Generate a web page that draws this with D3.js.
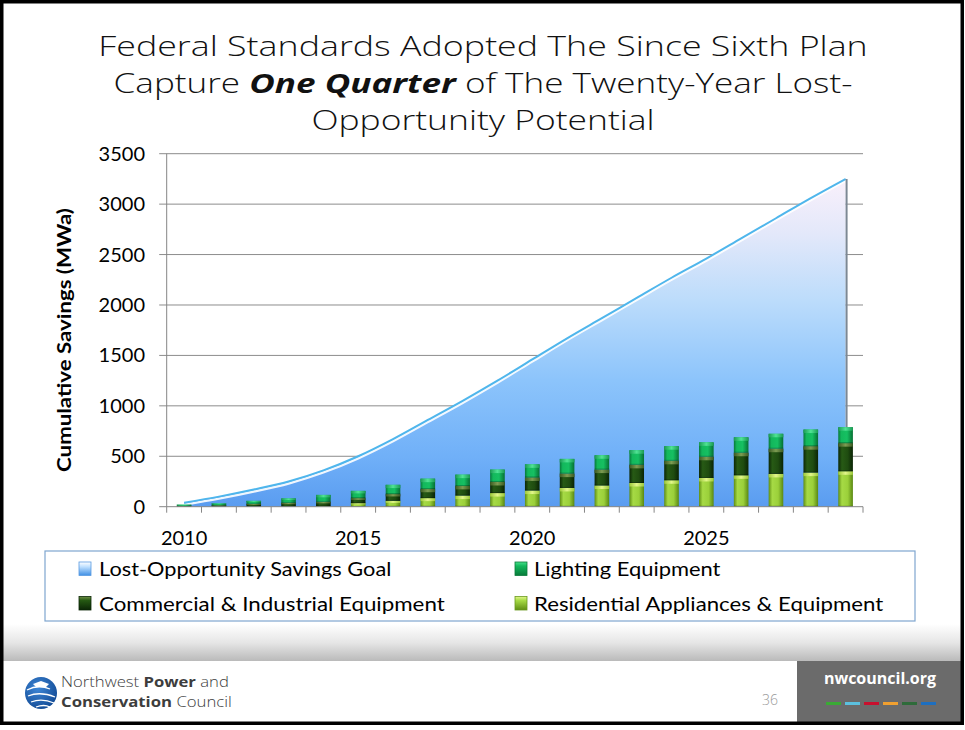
<!DOCTYPE html>
<html><head><meta charset="utf-8">
<script src="https://cdn.jsdelivr.net/npm/d3@7"></script>
<style>html,body{margin:0;padding:0;background:#fff;} svg{display:block;}</style>
</head><body>
<svg id="c" width="965" height="730"></svg>
<script>
// ---------- data ----------
const years = [2010,2011,2012,2013,2014,2015,2016,2017,2018,2019,2020,2021,2022,2023,2024,2025,2026,2027,2028,2029];
const goal = [40,100,170,250,360,500,670,860,1050,1250,1460,1670,1870,2070,2270,2460,2660,2860,3060,3250];
const residential = [0,0,0,0,5,35,58,85,110,135,160,186,210,235,262,285,311,325,338,351];
const commercial = [8,15,28,38,43,50,67,90,95,110,130,142,158,180,193,210,224,250,262,279];
const lighting = [12,17,30,44,69,72,92,103,113,123,130,146,142,145,145,143,153,148,165,158];
const yTicks = [0,500,1000,1500,2000,2500,3000,3500];
const xLabels = [2010,2015,2020,2025];
const seriesNames = ["Lost-Opportunity Savings Goal","Lighting Equipment","Commercial & Industrial Equipment","Residential Appliances & Equipment"];
const titleLine1 = "Federal Standards Adopted The Since Sixth Plan";
const titleLine2 = ["Capture ","One Quarter"," of The Twenty-Year Lost-"];
const titleLine3 = "Opportunity Potential";
const yTitle = "Cumulative Savings (MWa)";

// ---------- setup ----------
const svg = d3.select("#c");
const defs = svg.append("defs");
const L = 166.7, R = 863, B = 506.7, T = 153.7;
const x = d3.scaleBand().domain(years).range([L, R]).padding(0);
const y = d3.scaleLinear().domain([0, 3500]).range([B, T]);
const bw = x.bandwidth();
const barW = bw * 0.42;

function hGrad(id, stops){
  const g = defs.append("linearGradient").attr("id", id).attr("x1","0").attr("x2","1").attr("y1","0").attr("y2","0");
  stops.forEach(s => g.append("stop").attr("offset", s[0]).attr("stop-color", s[1]));
}
function vGrad(id, stops){
  const g = defs.append("linearGradient").attr("id", id).attr("x1","0").attr("x2","0").attr("y1","0").attr("y2","1");
  stops.forEach(s => g.append("stop").attr("offset", s[0]).attr("stop-color", s[1]));
}
hGrad("gL", [[0,"#07783a"],[0.2,"#13b85c"],[0.6,"#16c062"],[1,"#067033"]]);
hGrad("gC", [[0,"#0b2606"],[0.25,"#275a15"],[0.65,"#1f4c10"],[1,"#0a2405"]]);
hGrad("gR", [[0,"#5f8e14"],[0.25,"#a6da45"],[0.65,"#9bd03a"],[1,"#5a8812"]]);
hGrad("gLt", [[0,"#1a9a52"],[0.5,"#4fe494"],[1,"#1a9a52"]]);
hGrad("gCt", [[0,"#3c5a22"],[0.5,"#7c9c52"],[1,"#3c5a22"]]);
hGrad("gRt", [[0,"#9cc83a"],[0.5,"#e2f68a"],[1,"#9cc83a"]]);

// area gradient (user space)
const ag = defs.append("linearGradient").attr("id","gA").attr("gradientUnits","userSpaceOnUse")
  .attr("x1",0).attr("x2",0).attr("y1", y(3300)).attr("y2", y(0));
[[0,"#fbf1fb"],[0.18,"#e3e8fa"],[0.38,"#bcdcfb"],[0.62,"#8cc4fb"],[0.85,"#70b0f8"],[1,"#5a9cf0"]]
  .forEach(s => ag.append("stop").attr("offset", s[0]).attr("stop-color", s[1]));

// footer gradient
const fg = defs.append("linearGradient").attr("id","gF").attr("x1",0).attr("x2",0).attr("y1",0).attr("y2",1);
[[0,"#ffffff"],[0.5,"#e6e6e6"],[1,"#bababa"]].forEach(s => fg.append("stop").attr("offset", s[0]).attr("stop-color", s[1]));

vGrad("swA", [[0,"#ffffff"],[0.35,"#bfe0ff"],[1,"#3f8fe4"]]);
vGrad("swL", [[0,"#47e08c"],[0.3,"#13b85c"],[1,"#077a3a"]]);
vGrad("swC", [[0,"#6f8f45"],[0.3,"#255812"],[1,"#0b2606"]]);
vGrad("swR", [[0,"#e2f68a"],[0.3,"#a6da45"],[1,"#5f8e14"]]);

const rg = defs.append("radialGradient").attr("id","gLogo").attr("cx","0.4").attr("cy","0.35").attr("r","0.7");
rg.append("stop").attr("offset",0).attr("stop-color","#3d86d6");
rg.append("stop").attr("offset",1).attr("stop-color","#124a94");

// ---------- background / footer ----------
svg.append("rect").attr("x",0).attr("y",0).attr("width",965).attr("height",730).attr("fill","#fff");
svg.append("rect").attr("x",3).attr("y",624).attr("width",959).attr("height",37).attr("fill","url(#gF)");
svg.append("rect").attr("x",797).attr("y",661).attr("width",165).attr("height",62).attr("fill","#6b6b6b");
svg.append("text").attr("x",880).attr("y",684).attr("text-anchor","middle")
  .attr("font-family","Open Sans, sans-serif").attr("font-weight",700).attr("font-size",16)
  .attr("fill","#ffffff").text("nwcouncil.org");
const dashColors = ["#3aaa35","#5bc0de","#c8102e","#f0a030","#2e6b3a","#1e6fc0"];
dashColors.forEach((c,i) => svg.append("rect").attr("x",826 + i*19).attr("y",702).attr("width",15).attr("height",3).attr("fill",c));
svg.append("text").attr("x",770).attr("y",705).attr("text-anchor","middle")
  .attr("font-family","Open Sans, sans-serif").attr("font-weight",300).attr("font-size",14)
  .attr("fill","#9a9a9a").text("36");

// logo
svg.append("circle").attr("cx",41).attr("cy",693).attr("r",16).attr("fill","url(#gLogo)");
const lp = svg.append("g").attr("fill","none").attr("stroke","#fff").attr("stroke-width",1.3);
lp.append("path").attr("d","M27,690 Q38,684 50,689");
lp.append("path").attr("d","M28,696 Q40,691 55,697");
lp.append("path").attr("d","M31,702 Q42,698 54,703");
lp.append("path").attr("d","M36,707 Q44,704 50,707");
svg.append("path").attr("d","M33,684 l8,-3 l8,3 l-3,3 l-10,0 z").attr("fill","#fff");
const ft = svg.append("g").attr("font-family","Open Sans, sans-serif").attr("font-size",14).attr("fill","#3d3d3d");
const t1 = ft.append("text");
t1.append("tspan").attr("font-weight",300).text("Northwest ");
t1.append("tspan").attr("font-weight",700).text("Power");
t1.append("tspan").attr("font-weight",300).text(" and");
const t2 = ft.append("text");
t2.append("tspan").attr("font-weight",700).text("Conservation");
t2.append("tspan").attr("font-weight",300).text(" Council");
t1.attr("transform", `translate(61,687) scale(${168 / t1.node().getComputedTextLength()},1)`);
t2.attr("transform", `translate(61,706.5) scale(${171 / t2.node().getComputedTextLength()},1)`);

// frame
svg.append("rect").attr("x",1.75).attr("y",1.75).attr("width",960.5).attr("height",721.5)
  .attr("fill","none").attr("stroke","#000").attr("stroke-width",3.5);

// ---------- title ----------
const tg = svg.append("g").attr("font-family","Open Sans, sans-serif").attr("font-size",27).attr("fill","#111");
function titleText(){
  return tg.append("text").attr("text-anchor","middle").attr("font-weight",300);
}
const l1 = titleText().text(titleLine1);
const l2 = titleText();
l2.append("tspan").text(titleLine2[0]);
l2.append("tspan").attr("font-weight",700).attr("font-style","italic").text(titleLine2[1]);
l2.append("tspan").text(titleLine2[2]);
const l3 = titleText().text(titleLine3);
const s1 = 770 / l1.node().getComputedTextLength();
const s2 = 739 / l2.node().getComputedTextLength();
const s3 = (s1 + s2) / 2;
l1.attr("transform", `translate(483,56) scale(${s1},1)`);
l2.attr("transform", `translate(483,93) scale(${s2},1)`);
l3.attr("transform", `translate(483,130) scale(${s3},1)`);

// ---------- grid ----------
const gridG = svg.append("g");
gridG.selectAll("line").data(yTicks.filter(d => d > 0)).join("line")
  .attr("x1", L - 7.5).attr("x2", R).attr("y1", d => y(d)).attr("y2", d => y(d))
  .attr("stroke","#8c8c8c").attr("stroke-width",1);

// ---------- area ----------
const pts = years.map((yr,i) => ({yr, v: goal[i]}));
const cx = d => x(d.yr) + bw/2;
const area = d3.area().x(cx).y0(y(0)).y1(d => y(d.v)).curve(d3.curveMonotoneX);
svg.append("path").datum(pts).attr("d", area).attr("fill","url(#gA)");
const line = d3.line().x(cx).y(d => y(d.v)).curve(d3.curveMonotoneX);
svg.append("path").datum(pts).attr("d", line).attr("transform","translate(0,2)")
  .attr("fill","none").attr("stroke","#ffffff").attr("stroke-width",2.5).attr("opacity",0.9);
svg.append("path").datum(pts).attr("d", line)
  .attr("fill","none").attr("stroke","#4fb6ec").attr("stroke-width",2);
const last = pts[pts.length-1];
svg.append("line").attr("x1", cx(last)+1).attr("x2", cx(last)+1).attr("y1", y(last.v)).attr("y2", y(0))
  .attr("stroke","#7c8894").attr("stroke-width",2);

// ---------- bars ----------
const rows = years.map((yr,i) => ({yr, residential: residential[i], commercial: commercial[i], lighting: lighting[i]}));
const stack = d3.stack().keys(["residential","commercial","lighting"])(rows);
const fills = {residential:["url(#gR)","url(#gRt)"], commercial:["url(#gC)","url(#gCt)"], lighting:["url(#gL)","url(#gLt)"]};
stack.forEach(layer => {
  const g = svg.append("g");
  layer.forEach(d => {
    const h = y(d[0]) - y(d[1]);
    if (h <= 0) return;
    const bx = x(d.data.yr) + (bw - barW)/2;
    g.append("rect").attr("x", bx).attr("y", y(d[1])).attr("width", barW).attr("height", h)
      .attr("fill", fills[layer.key][0]);
    const th = Math.min(3.5, h * 0.35);
    g.append("rect").attr("x", bx).attr("y", y(d[1])).attr("width", barW).attr("height", th)
      .attr("fill", fills[layer.key][1]);
    g.append("rect").attr("x", bx).attr("y", y(d[0]) - Math.min(1, h*0.2)).attr("width", barW).attr("height", Math.min(1, h*0.2))
      .attr("fill", "#000").attr("opacity", 0.25);
  });
});

// ---------- axes ----------
const axG = svg.append("g").attr("stroke","#868686").attr("stroke-width",1);
axG.append("line").attr("x1", L).attr("x2", L).attr("y1", T).attr("y2", B);
axG.append("line").attr("x1", L - 7.5).attr("x2", R).attr("y1", B).attr("y2", B);
const boundaries = years.map(yr => x(yr)).concat([R]);
axG.selectAll("line.t").data(boundaries).join("line").attr("class","t")
  .attr("x1", d => d).attr("x2", d => d).attr("y1", B).attr("y2", B + 6);

const lab = svg.append("g").attr("font-family","Lato, sans-serif").attr("font-size",20).attr("fill","#000");
lab.selectAll("text.y").data(yTicks).join("text").attr("class","y")
  .attr("x", 145).attr("y", d => y(d) + 7).attr("text-anchor","end").text(d => d);
lab.selectAll("text.x").data(xLabels).join("text").attr("class","x")
  .attr("x", d => x(d) + bw/2).attr("y", 545).attr("text-anchor","middle").text(d => d);
const yt = lab.append("text").attr("font-weight",700).attr("font-size",19.5).attr("text-anchor","middle").text(yTitle);
const ys = 264 / yt.node().getComputedTextLength();
yt.attr("transform", `translate(71,340) rotate(-90) scale(${ys},1)`);

// ---------- legend ----------
svg.append("rect").attr("x",45).attr("y",551).attr("width",870).attr("height",70)
  .attr("fill","#fff").attr("stroke","#7fa6cf").attr("stroke-width",1.2);
const legItems = [
  {name: seriesNames[0], sw:"url(#swA)", sx:79, tx:99, ty:569, w:292.5, border:"#5a9be0"},
  {name: seriesNames[1], sw:"url(#swL)", sx:515, tx:534, ty:569, w:186.6, border:"#0a7a3a"},
  {name: seriesNames[2], sw:"url(#swC)", sx:79, tx:99, ty:603.5, w:346, border:"#0b2606"},
  {name: seriesNames[3], sw:"url(#swR)", sx:515, tx:534, ty:603.5, w:349.6, border:"#6a9a20"}
];
const lg = svg.append("g").attr("font-family","Lato, sans-serif").attr("font-size",20).attr("fill","#000");
legItems.forEach(it => {
  lg.append("rect").attr("x", it.sx).attr("y", it.ty - 7).attr("width", 12).attr("height", 13.5)
    .attr("fill", it.sw).attr("stroke", it.border).attr("stroke-width", 0.8);
  const t = lg.append("text").attr("x", 0).attr("y", 0).text(it.name);
  const s = it.w / t.node().getComputedTextLength();
  t.attr("transform", `translate(${it.tx},${it.ty + 7}) scale(${s},1)`);
});
</script>
</body></html>
